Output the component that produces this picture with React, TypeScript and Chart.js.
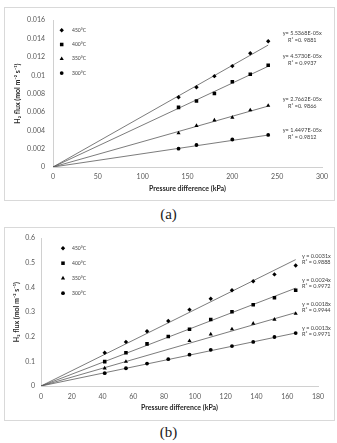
import React, { useEffect, useRef } from "react";
import { Chart, registerables } from "chart.js";

Chart.register(...registerables);

const SANS = "Lato, 'Open Sans', 'DejaVu Sans', sans-serif";

// Series shared by both panels
const seriesLabels = ["450°C", "400°C", "350°C", "300°C"];
const markerStyles = ["rectRot", "rect", "triangle", "circle"];
const markerRadii = [2.2, 2.5, 2.4, 1.9];

// Panel (a): pressure difference (kPa) vs H2 flux
const pressureA = [140, 160, 180, 200, 220, 240];
const pressureA300 = [140, 160, 200, 240];
const fluxA450 = [0.0076, 0.0087, 0.0099, 0.0110, 0.0124, 0.0137];
const fluxA400 = [0.0065, 0.0072, 0.0080, 0.0093, 0.0101, 0.0111];
const fluxA350 = [0.0037, 0.0045, 0.0051, 0.0054, 0.0062, 0.0067];
const fluxA300 = [0.0020, 0.0024, 0.0030, 0.0035];
const slopesA = [5.5368e-5, 4.573e-5, 2.7662e-5, 1.4497e-5];
const eqLabelsA = ["y= 5.5368E-05x", "y= 4.5730E-05x", "y= 2.7662E-05x", "y= 1.4497E-05x"];
const r2LabelsA = ["R² =0. 9881", "R² = 0.9937", "R² =0. 9866", "R² = 0.9812"];

// Panel (b)
const pressureB = [41.4, 55.2, 68.9, 82.7, 96.5, 110.3, 124.1, 137.9, 151.7, 165.5];
const pressureB350 = [41.4, 55.2, 96.5, 110.3, 124.1, 137.9, 151.7, 165.5];
const fluxB450 = [0.135, 0.179, 0.222, 0.264, 0.31, 0.354, 0.389, 0.425, 0.453, 0.489];
const fluxB400 = [0.099, 0.135, 0.171, 0.201, 0.23, 0.27, 0.301, 0.33, 0.358, 0.389];
const fluxB350 = [0.072, 0.099, 0.183, 0.21, 0.231, 0.254, 0.27, 0.294];
const fluxB300 = [0.052, 0.072, 0.091, 0.109, 0.127, 0.147, 0.162, 0.179, 0.199, 0.215];
const slopesB = [0.0031, 0.0024, 0.0018, 0.0013];
const eqLabelsB = ["y = 0.0031x", "y = 0.0024x", "y = 0.0018x", "y = 0.0013x"];
const r2LabelsB = ["R² = 0.9888", "R² = 0.9972", "R² = 0.9944", "R² = 0.9971"];

const yTitle = "H₂ flux (mol m⁻² s⁻¹)";
const xTitle = "Pressure difference (kPa)";

type Layout = {
  axisWidth: number;
  axisHeight: number;
  padRight: number;
  padTop: number;
  yTickPad: number;
  xTickPad: number;
  yTitlePad: number;
  xTitlePad: number;
  legendMarkerDx: number;
  legendTextDx: number;
  legendDy: number;
  legendGap: number;
  noteX: number;
  noteY: number[];
  noteAlign: CanvasTextAlign;
  noteGap: number;
};

type Panel = {
  xs: number[][];
  ys: number[][];
  slopes: number[];
  fitEnd: number;
  xMax: number;
  xStep: number;
  yMax: number;
  yStep: number;
  eq: string[];
  r2: string[];
  layout: Layout;
};

const panelA: Panel = {
  xs: [pressureA, pressureA, pressureA, pressureA300],
  ys: [fluxA450, fluxA400, fluxA350, fluxA300],
  slopes: slopesA,
  fitEnd: 240,
  xMax: 300,
  xStep: 50,
  yMax: 0.016,
  yStep: 0.002,
  eq: eqLabelsA,
  r2: r2LabelsA,
  layout: {
    axisWidth: 48,
    axisHeight: 33,
    padRight: 12,
    padTop: 7,
    yTickPad: 8,
    xTickPad: 5.5,
    yTitlePad: 8.3,
    xTitlePad: 6.8,
    legendMarkerDx: 8.7,
    legendTextDx: 19,
    legendDy: 10,
    legendGap: 14.3,
    noteX: 278,
    noteY: [0.01456, 0.01203, 0.00738, 0.00401],
    noteAlign: "center",
    noteGap: 7,
  },
};

const panelB: Panel = {
  xs: [pressureB, pressureB, pressureB350, pressureB],
  ys: [fluxB450, fluxB400, fluxB350, fluxB300],
  slopes: slopesB,
  fitEnd: 165.5,
  xMax: 180,
  xStep: 20,
  yMax: 0.6,
  yStep: 0.1,
  eq: eqLabelsB,
  r2: r2LabelsB,
  layout: {
    axisWidth: 36,
    axisHeight: 34,
    padRight: 16,
    padTop: 7,
    yTickPad: 6,
    xTickPad: 6.5,
    yTitlePad: 7.8,
    xTitlePad: 7.8,
    legendMarkerDx: 22,
    legendTextDx: 31,
    legendDy: 10,
    legendGap: 15,
    noteX: 169.6,
    noteY: [0.528, 0.429, 0.33, 0.234],
    noteAlign: "left",
    noteGap: 6,
  },
};

function drawMarker(ctx: CanvasRenderingContext2D, style: string, x: number, y: number, r: number) {
  ctx.beginPath();
  if (style === "rectRot") {
    ctx.moveTo(x, y - r);
    ctx.lineTo(x + r, y);
    ctx.lineTo(x, y + r);
    ctx.lineTo(x - r, y);
    ctx.closePath();
  } else if (style === "rect") {
    const s = r * Math.SQRT1_2;
    ctx.rect(x - s, y - s, 2 * s, 2 * s);
  } else if (style === "triangle") {
    let a = 0;
    ctx.moveTo(x + Math.sin(a) * r, y - Math.cos(a) * r);
    a += (2 * Math.PI) / 3;
    ctx.lineTo(x + Math.sin(a) * r, y - Math.cos(a) * r);
    a += (2 * Math.PI) / 3;
    ctx.lineTo(x + Math.sin(a) * r, y - Math.cos(a) * r);
    ctx.closePath();
  } else {
    ctx.arc(x, y, r, 0, Math.PI * 2);
  }
  ctx.fill();
}

// In-plot legend and trendline equations
const panelDecor = {
  id: "panelDecor",
  afterDatasetsDraw(chart: any, _args: any, opts: any) {
    const { ctx, chartArea, scales } = chart;
    const lay: Layout = opts.layout;
    ctx.save();
    seriesLabels.forEach((label, i) => {
      const y = chartArea.top + lay.legendDy + i * lay.legendGap;
      ctx.fillStyle = "#000";
      drawMarker(ctx, markerStyles[i], chartArea.left + lay.legendMarkerDx, y, markerRadii[i]);
      ctx.fillStyle = "#404040";
      ctx.font = `5px ${SANS}`;
      ctx.textAlign = "left";
      ctx.textBaseline = "middle";
      ctx.fillText(label, chartArea.left + lay.legendTextDx, y);
    });
    const eq: string[] = opts.eq;
    const r2: string[] = opts.r2;
    ctx.font = `5.5px ${SANS}`;
    ctx.textAlign = lay.noteAlign;
    ctx.textBaseline = "middle";
    ctx.fillStyle = "#404040";
    eq.forEach((text, i) => {
      const x = scales.x.getPixelForValue(lay.noteX);
      const y = scales.y.getPixelForValue(lay.noteY[i]);
      ctx.fillText(text, x, y);
      ctx.fillText(r2[i], x, y + lay.noteGap);
    });
    ctx.restore();
  },
};

const fmt = (v: number) => String(Number(Number(v).toFixed(4)));

function buildConfig(p: Panel): any {
  const lay = p.layout;
  const points = p.xs.map((xs, i) => ({
    label: seriesLabels[i],
    data: xs.map((x, k) => ({ x, y: p.ys[i][k] })),
    pointStyle: markerStyles[i],
    pointRadius: markerRadii[i],
    pointBackgroundColor: "#000",
    pointBorderColor: "#000",
    pointBorderWidth: 0,
    showLine: false,
  }));
  const fits = p.slopes.map((m, i) => ({
    label: `fit ${seriesLabels[i]}`,
    data: [
      { x: 0, y: 0 },
      { x: p.fitEnd, y: m * p.fitEnd },
    ],
    showLine: true,
    pointRadius: 0,
    borderColor: "#5a5a5a",
    borderWidth: 0.8,
  }));
  return {
    type: "scatter",
    data: { datasets: [...points, ...fits] },
    plugins: [panelDecor],
    options: {
      animation: false,
      responsive: false,
      devicePixelRatio: 1,
      layout: { padding: { left: 0, right: lay.padRight, top: lay.padTop, bottom: 0 } },
      plugins: {
        legend: { display: false },
        tooltip: { enabled: false },
        panelDecor: { layout: lay, eq: p.eq, r2: p.r2 },
      },
      scales: {
        x: {
          type: "linear",
          min: 0,
          max: p.xMax,
          grid: { display: false, drawTicks: false },
          border: { display: true, color: "#d0d0d0", width: 1 },
          ticks: {
            stepSize: p.xStep,
            autoSkip: false,
            maxRotation: 0,
            padding: lay.xTickPad,
            color: "#595959",
            font: { family: SANS, size: 7 },
            callback: (v: number) => fmt(v),
          },
          title: {
            display: true,
            text: xTitle,
            color: "#262626",
            font: { family: SANS, size: 7, weight: "bold" },
            padding: { top: 0, bottom: lay.xTitlePad },
          },
          afterFit: (s: any) => {
            s.height = lay.axisHeight;
          },
        },
        y: {
          type: "linear",
          min: 0,
          max: p.yMax,
          grid: { display: false, drawTicks: false },
          border: { display: true, color: "#d0d0d0", width: 1 },
          ticks: {
            stepSize: p.yStep,
            autoSkip: false,
            padding: lay.yTickPad,
            color: "#595959",
            font: { family: SANS, size: 7 },
            callback: (v: number) => fmt(v),
          },
          title: {
            display: true,
            text: yTitle,
            color: "#262626",
            font: { family: SANS, size: 7, weight: "bold" },
            padding: { top: lay.yTitlePad, bottom: 0 },
          },
          afterFit: (s: any) => {
            s.width = lay.axisWidth;
          },
        },
      },
    },
  };
}

function PanelChart({ panel, top }: { panel: Panel; top: number }) {
  const ref = useRef<HTMLCanvasElement>(null);
  useEffect(() => {
    const chart = new Chart(ref.current as HTMLCanvasElement, buildConfig(panel));
    return () => chart.destroy();
  }, [panel]);
  return (
    <div
      style={{
        position: "absolute",
        left: 4,
        top,
        width: 329,
        height: 192,
        border: "1px solid #d9d9d9",
        background: "#fff",
      }}
    >
      <canvas ref={ref} width={329} height={192} style={{ display: "block", width: 329, height: 192 }} />
    </div>
  );
}

const captionStyle: React.CSSProperties = {
  position: "absolute",
  left: 0,
  width: 337,
  textAlign: "center",
  fontFamily: "'Liberation Serif', 'DejaVu Serif', serif",
  fontSize: 15,
  lineHeight: "17px",
  color: "#1a1a1a",
};

export default function App() {
  return (
    <div style={{ position: "absolute", left: 0, top: 0, width: 337, height: 443, background: "#fff" }}>
      <PanelChart panel={panelA} top={7} />
      <div style={{ ...captionStyle, top: 206 }}>(a)</div>
      <PanelChart panel={panelB} top={227} />
      <div style={{ ...captionStyle, top: 424 }}>(b)</div>
    </div>
  );
}
